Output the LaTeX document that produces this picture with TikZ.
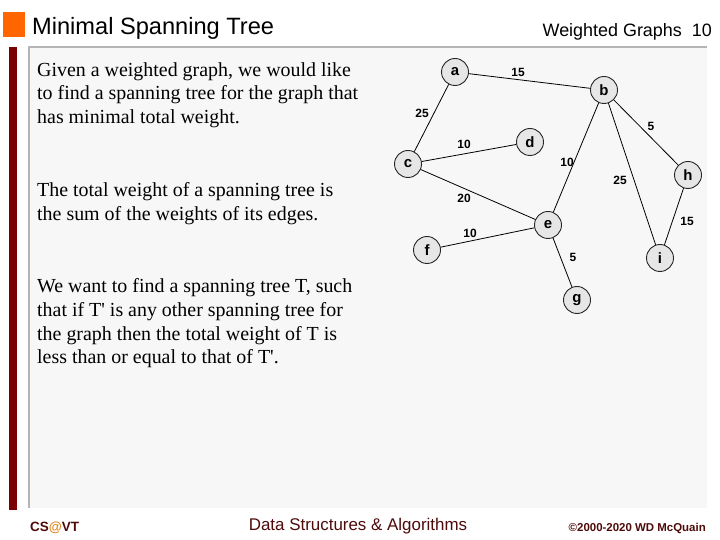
\documentclass[tikz,border=0pt]{standalone}
\usepackage{fontspec}
\setmainfont{Liberation Serif}
\newfontfamily\arialfont{Liberation Sans}
\usepackage{tikz}
\usetikzlibrary{positioning}

\definecolor{slideorange}{HTML}{FF6600}
\definecolor{slidebar}{HTML}{7A0000}
\definecolor{panelgray}{HTML}{F7F7F7}
\definecolor{panelline}{HTML}{B4B4B4}
\definecolor{vertexfill}{HTML}{E6E6E6}
\definecolor{footred}{HTML}{4F0A0A}
\definecolor{atorange}{HTML}{E08A2A}

\tikzset{
  vertex/.style={circle,draw=black!85,line width=0.9bp,fill=vertexfill,
    minimum size=27bp,inner sep=0pt,font=\arialfont\fontsize{15}{17}\selectfont\bfseries},
  weight/.style={inner sep=0pt,font=\arialfont\fontsize{12}{14}\selectfont\bfseries},
  bodytext/.style={anchor=north west,inner sep=0pt,align=left,
    font=\fontsize{20}{24}\selectfont},
  edge/.style={black,line width=0.8bp},
}

\begin{document}
\begin{tikzpicture}[line join=bevel]
\useasboundingbox (0bp,0bp) rectangle (720bp,540bp);
%% slide frame
\fill[white] (0bp,0bp) rectangle (720bp,540bp);
\fill[slideorange] (3bp,503bp) rectangle (25bp,528bp);
\fill[slidebar] (9bp,30bp) rectangle (17bp,493bp);
\fill[panelgray] (29bp,32bp) rectangle (707bp,493bp);
\draw[panelline,line width=2bp] (29bp,32bp) -- (29bp,493bp) -- (707bp,493bp);
\node (title) at (32bp,505bp) [anchor=base west,inner sep=0pt,
  font=\arialfont\fontsize{23.7}{28}\selectfont] {Minimal Spanning Tree};
\node (header) at (712bp,503.5bp) [anchor=base east,inner sep=0pt,
  font=\arialfont\fontsize{18}{21}\selectfont] {Weighted Graphs\ \ 10};
%% text
\node (para_1) at (37bp,478bp) [bodytext] {Given a weighted graph, we would like\\
  to find a spanning tree for the graph that\\has minimal total weight.};
\node (para_2) at (37bp,358bp) [bodytext] {The total weight of a spanning tree is\\
  the sum of the weights of its edges.};
\node (para_3) at (37bp,262bp) [bodytext] {We want to find a spanning tree T, such\\
  that if T\textquotesingle{} is any other spanning tree for\\the graph then the total weight of T is\\
  less than or equal to that of T\textquotesingle.};
%% graph
\node (node_a) at (455bp,468bp) [vertex] {a};
\node (node_b) at (604bp,450bp) [vertex] {b};
\node (node_c) at (408bp,376bp) [vertex] {c};
\node (node_d) at (530bp,398bp) [vertex] {d};
\node (node_e) at (548bp,315bp) [vertex] {e};
\node (node_f) at (427bp,290bp) [vertex] {f};
\node (node_g) at (577bp,240bp) [vertex] {g};
\node (node_h) at (688bp,365bp) [vertex] {h};
\node (node_i) at (660bp,282bp) [vertex] {i};
\draw [edge] (node_a) -- (node_b);
\draw [edge] (node_a) -- (node_c);
\draw [edge] (node_b) -- (node_h);
\draw [edge] (node_b) -- (node_e);
\draw [edge] (node_b) -- (node_i);
\draw [edge] (node_c) -- (node_d);
\draw [edge] (node_c) -- (node_e);
\draw [edge] (node_f) -- (node_e);
\draw [edge] (node_e) -- (node_g);
\draw [edge] (node_h) -- (node_i);
\node (w_ab) at (518bp,468bp) [weight] {15};
\node (w_ac) at (422bp,427bp) [weight] {25};
\node (w_bh) at (651bp,414bp) [weight] {5};
\node (w_cd) at (464bp,396bp) [weight] {10};
\node (w_be) at (567bp,378bp) [weight] {10};
\node (w_bi) at (620bp,360bp) [weight] {25};
\node (w_ce) at (464bp,342bp) [weight] {20};
\node (w_fe) at (470bp,307bp) [weight] {10};
\node (w_eg) at (573bp,283bp) [weight] {5};
\node (w_hi) at (687bp,319bp) [weight] {15};
%% footer
\node (foot_l) at (30bp,9bp) [anchor=base west,inner sep=0pt,text=footred,
  font=\arialfont\fontsize{13.5}{16}\selectfont\bfseries] {CS\textcolor{atorange}{@}VT};
\node (foot_c) at (358bp,10bp) [anchor=base,inner sep=0pt,text=footred,
  font=\arialfont\fontsize{17}{20}\selectfont] {Data Structures \& Algorithms};
\node (foot_r) at (706bp,9bp) [anchor=base east,inner sep=0pt,text=footred,
  font=\arialfont\fontsize{11.5}{14}\selectfont\bfseries] {\textcopyright2000-2020 WD McQuain};
%
\end{tikzpicture}
\end{document}
